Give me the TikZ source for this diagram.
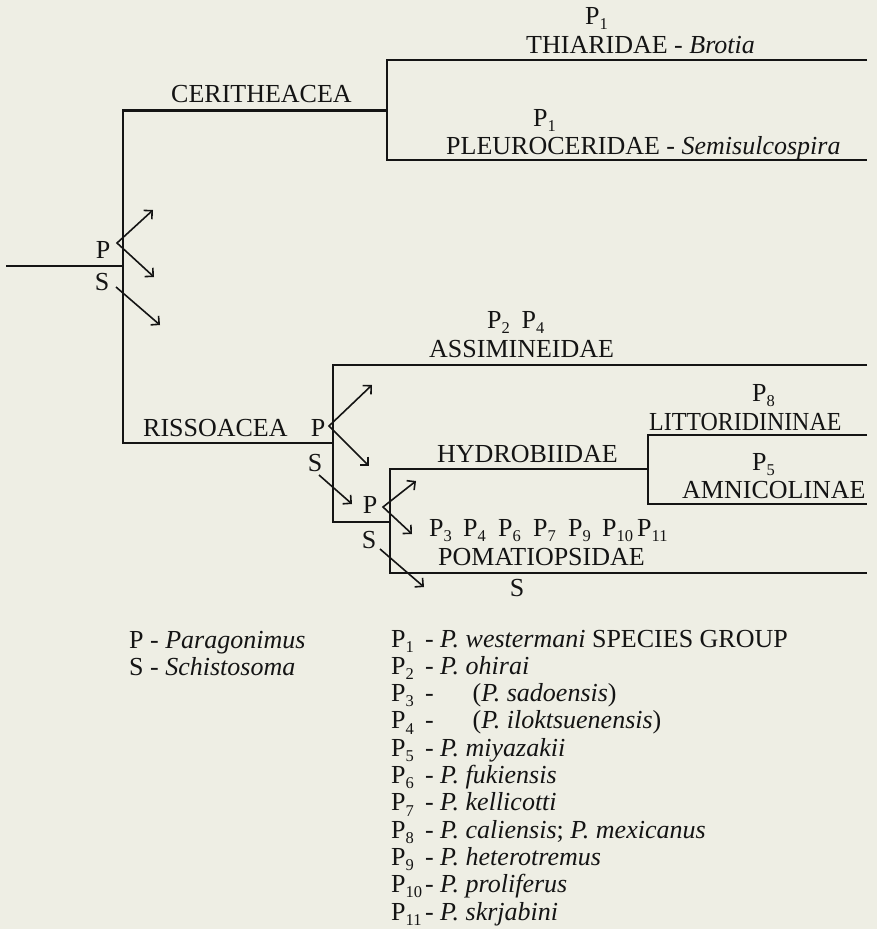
\documentclass[tikz,border=0pt]{standalone}
\usepackage{fontspec}
\setmainfont{Liberation Serif}
\usetikzlibrary{arrows.meta}
\definecolor{paper}{RGB}{238,238,228}
\definecolor{ink}{RGB}{20,20,20}
\newcommand{\subdig}[1]{\raisebox{-0.2em}{\fontsize{16.5}{16.5}\selectfont #1}}
\newcommand{\Pn}[1]{P\subdig{#1}}
\newcommand{\keyP}[1]{\makebox[1.3em][l]{P\subdig{#1}}}

\begin{document}
\begin{tikzpicture}[x=1pt,y=-1pt,
  branch/.style={draw=ink, line width=2.9pt, line join=miter},
  lbl/.style={inner sep=0pt, anchor=base west, text=ink,
    font=\fontsize{26}{30}\selectfont},
  tag/.style={inner sep=0pt, anchor=center, text=ink,
    font=\fontsize{26}{30}\selectfont},
  migr/.style={draw=ink, line width=1.6pt,
    -{Straight Barb[length=6pt,width=12pt,line width=1.6pt]}},
  forked/.style={draw=ink, line width=1.6pt,
    {Straight Barb[length=6pt,width=12pt,line width=1.6pt]}-{Straight Barb[length=6pt,width=12pt,line width=1.6pt]}}
]
\fill[paper] (0,0) rectangle (877,929);
\useasboundingbox (0,0) rectangle (877,929);

% ---- tree joints ----
\coordinate (root) at (6,266);
\coordinate (r)    at (123,266);
\coordinate (cer0) at (123,110.5);
\coordinate (cer1) at (387,110.5);
\coordinate (thi0) at (387,60);
\coordinate (thi1) at (867,60);
\coordinate (ple0) at (387,160);
\coordinate (ple1) at (867,160);
\coordinate (ris0) at (123,443);
\coordinate (ris1) at (333,443);
\coordinate (ass0) at (333,365);
\coordinate (ass1) at (867,365);
\coordinate (sub0) at (333,522);
\coordinate (sub1) at (390,522);
\coordinate (hyd0) at (390,469);
\coordinate (hyd1) at (648,469);
\coordinate (pom0) at (390,573);
\coordinate (pom1) at (867,573);
\coordinate (lit0) at (648,435);
\coordinate (lit1) at (867,435);
\coordinate (amn0) at (648,504);
\coordinate (amn1) at (867,504);

% ---- branches ----
\draw[branch] (root) -- (r);
\draw[branch] (cer1) -- (cer0) -- (ris0) -- (ris1);
\draw[branch] (thi1) -- (thi0) -- (ple0) -- (ple1);
\draw[branch] (ass1) -- (ass0) -- (sub0) -- (sub1);
\draw[branch] (hyd1) -- (hyd0) -- (pom0) -- (pom1);
\draw[branch] (lit1) -- (lit0) -- (amn0) -- (amn1);

% ---- branch labels ----
\node[lbl] (pthi) at (585,24) {\Pn{1}};
\node[lbl] (thi)  at (526,53) {THIARIDAE - \textit{Brotia}};
\node[lbl] (pple) at (533,126) {\Pn{1}};
\node[lbl] (ple)  at (446,154) {PLEUROCERIDAE - \textit{Semisulcospira}};
\node[lbl] (cer)  at (171,102) {CERITHEACEA};
\node[lbl] (ris)  at (143,436) {RISSOACEA};
\node[lbl] (pass) at (487,328) {\Pn{2}\hspace{0.45em}\Pn{4}};
\node[lbl] (ass)  at (429,357) {ASSIMINEIDAE};
\node[lbl] (plit) at (752,401) {\Pn{8}};
\node[lbl] (lit)  at (649,430) {\scalebox{0.92}[1]{LITTORIDININAE}};
\node[lbl] (hyd)  at (437,462) {HYDROBIIDAE};
\node[lbl] (pamn) at (752,470) {\Pn{5}};
\node[lbl] (amn)  at (682,498) {AMNICOLINAE};
\node[lbl] (pp3)  at (429,536) {\Pn{3}};
\node[lbl] (pp4)  at (463,536) {\Pn{4}};
\node[lbl] (pp6)  at (498,536) {\Pn{6}};
\node[lbl] (pp7)  at (533,536) {\Pn{7}};
\node[lbl] (pp9)  at (568,536) {\Pn{9}};
\node[lbl] (pp10) at (602,536) {\Pn{10}};
\node[lbl] (pp11) at (637,536) {\Pn{11}};
\node[lbl] (pom)  at (438,565) {POMATIOPSIDAE};
\node[tag] (spom) at (517,588) {S};

% ---- parasite shifts ----
\node[tag] (p0) at (103,250) {P};
\node[tag] (s0) at (102,282) {S};
\coordinate (p0v) at (117,243);
\coordinate (p0u) at (153,210);
\coordinate (p0d) at (154,277);
\coordinate (s0a) at (116,287);
\coordinate (s0b) at (160,325);
\draw[forked] (p0u) -- (p0v) -- (p0d);
\draw[migr] (s0a) -- (s0b);

\node[tag] (p1) at (318,428) {P};
\node[tag] (s1) at (315,463) {S};
\coordinate (p1v) at (329,426);
\coordinate (p1u) at (372,385);
\coordinate (p1d) at (369,466);
\coordinate (s1a) at (319,475);
\coordinate (s1b) at (352,504);
\draw[forked] (p1u) -- (p1v) -- (p1d);
\draw[migr] (s1a) -- (s1b);

\node[tag] (p2) at (370,505) {P};
\node[tag] (s2) at (369,540) {S};
\coordinate (p2v) at (383,507);
\coordinate (p2u) at (416,481);
\coordinate (p2d) at (412,534);
\coordinate (s2a) at (380,549);
\coordinate (s2b) at (424,587);
\draw[forked] (p2u) -- (p2v) -- (p2d);
\draw[migr] (s2a) -- (s2b);

% ---- key ----
\node[lbl] (kp) at (129,648) {P - \textit{Paragonimus}};
\node[lbl] (ks) at (129,675) {S - \textit{Schistosoma}};
\node[lbl] (k1)  at (391,647)   {\keyP{1}- \textit{P. westermani} SPECIES GROUP};
\node[lbl] (k2)  at (391,674.3) {\keyP{2}- \textit{P. ohirai}};
\node[lbl] (k3)  at (391,701.6) {\keyP{3}- \hspace{1.25em}(\textit{P. sadoensis})};
\node[lbl] (k4)  at (391,728.9) {\keyP{4}- \hspace{1.25em}(\textit{P. iloktsuenensis})};
\node[lbl] (k5)  at (391,756.2) {\keyP{5}- \textit{P. miyazakii}};
\node[lbl] (k6)  at (391,783.5) {\keyP{6}- \textit{P. fukiensis}};
\node[lbl] (k7)  at (391,810.8) {\keyP{7}- \textit{P. kellicotti}};
\node[lbl] (k8)  at (391,838.1) {\keyP{8}- \textit{P. caliensis}; \textit{P. mexicanus}};
\node[lbl] (k9)  at (391,865.4) {\keyP{9}- \textit{P. heterotremus}};
\node[lbl] (k10) at (391,892.7) {\keyP{10}- \textit{P. proliferus}};
\node[lbl] (k11) at (391,920)   {\keyP{11}- \textit{P. skrjabini}};
\end{tikzpicture}
\end{document}
